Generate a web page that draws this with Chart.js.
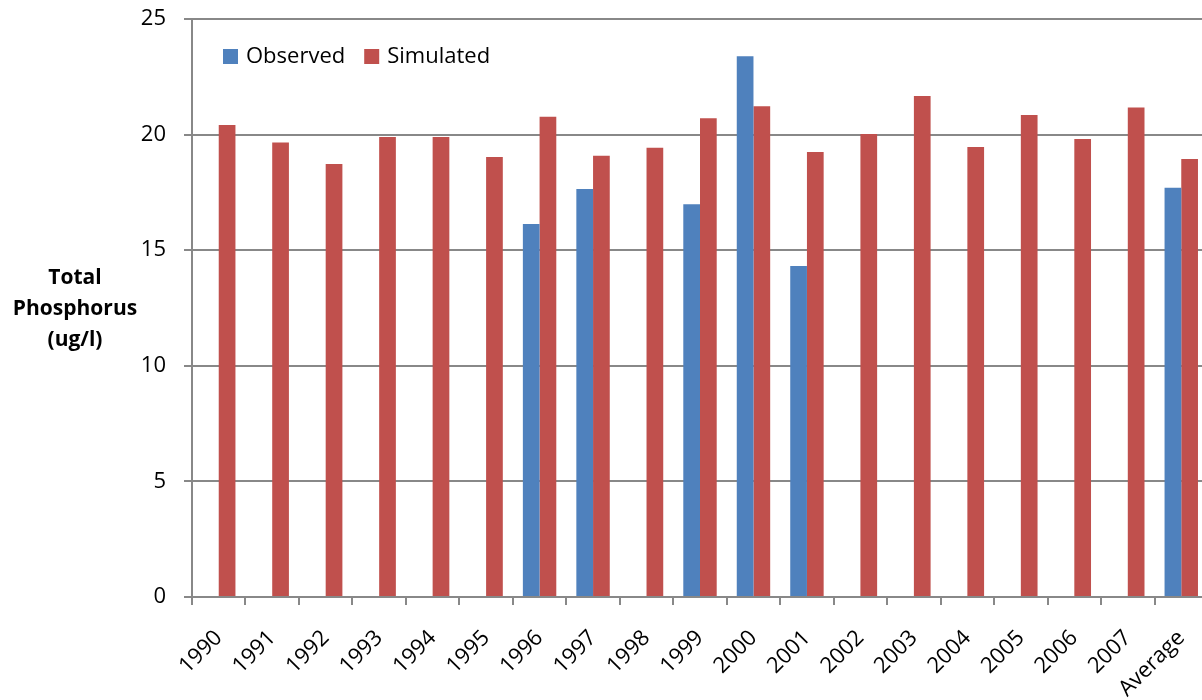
<!DOCTYPE html>
<html>
<head>
<meta charset="utf-8">
<script src="https://cdn.jsdelivr.net/npm/chart.js@4"></script>
<style>
  html, body { margin: 0; padding: 0; background: #fff; overflow: hidden; }
  #wrap { width: 1210px; height: 700px; }
</style>
</head>
<body>
<div id="wrap"><canvas id="chart" width="1210" height="700"></canvas></div>
<script>
// données
const years = ['1990', '1991', '1992', '1993', '1994', '1995', '1996', '1997', '1998', '1999',
               '2000', '2001', '2002', '2003', '2004', '2005', '2006', '2007', 'Average'];
const observed = [null, null, null, null, null, null, 16.13, 17.65, null, 16.99,
                  23.39, 14.32, null, null, null, null, null, null, 17.70];
const simulated = [20.41, 19.66, 18.73, 19.90, 19.90, 19.03, 20.77, 19.08, 19.43, 20.71,
                   21.23, 19.25, 20.03, 21.67, 19.46, 20.85, 19.81, 21.17, 18.95];
const yTicks = [0, 5, 10, 15, 20, 25];
const yTitle = ['Total', 'Phosphorus', '(ug/l)'];

const FONT = "'Open Sans', sans-serif";
const AXIS_GREY = '#888888';

// légende et titre de l'axe Y dessinés à la main (placement comme Excel)
const extras = {
    id: 'extras',
    afterDraw(chart) {
        const ctx = chart.ctx;
        ctx.save();
        // titre Y horizontal, en gras, sur trois lignes
        ctx.font = 'bold 21px ' + FONT;
        ctx.fillStyle = '#000';
        ctx.textAlign = 'center';
        ctx.textBaseline = 'middle';
        yTitle.forEach((line, i) => ctx.fillText(line, 75, 278 + i * 31));

        // légende en haut à gauche de la zone de tracé
        ctx.font = '22px ' + FONT;
        ctx.textAlign = 'left';
        let x = 223;
        const y = 57;
        chart.data.datasets.forEach(ds => {
            ctx.fillStyle = ds.backgroundColor;
            ctx.fillRect(x, y - 8, 15, 15);
            ctx.fillStyle = '#000';
            ctx.fillText(ds.label, x + 23, y);
            x += 23 + ctx.measureText(ds.label).width + 19;
        });
        ctx.restore();
    }
};

// on fige la zone de tracé : pas de marges automatiques des axes
function noPadding(scale) {
    scale.paddingLeft = 0;
    scale.paddingRight = 0;
    scale.paddingTop = 0;
    scale.paddingBottom = 0;
}

const ctx = document.getElementById('chart').getContext('2d');
new Chart(ctx, {
    type: 'bar',
    data: {
        labels: years,
        datasets: [{
            label: 'Observed',
            data: observed,
            backgroundColor: '#4F81BD',
            categoryPercentage: 0.625,
            barPercentage: 1.0
        }, {
            label: 'Simulated',
            data: simulated,
            backgroundColor: '#C0504D',
            categoryPercentage: 0.625,
            barPercentage: 1.0
        }]
    },
    options: {
        responsive: false,
        animation: false,
        layout: { padding: { top: 19, right: 2, left: 0, bottom: 0 } },
        plugins: {
            legend: { display: false },
            tooltip: { enabled: false }
        },
        scales: {
            x: {
                grid: {
                    offset: true,
                    drawOnChartArea: false,
                    drawTicks: true,
                    tickLength: 8,
                    color: AXIS_GREY,
                    lineWidth: 2
                },
                border: { color: AXIS_GREY, width: 2 },
                ticks: {
                    font: { family: FONT, size: 22 },
                    color: '#000',
                    minRotation: 45,
                    maxRotation: 45,
                    padding: 20,
                    labelOffset: 0,
                    autoSkip: false
                },
                afterFit: scale => { scale.height = 103; noPadding(scale); }
            },
            y: {
                min: 0,
                max: 25,
                afterBuildTicks: scale => { scale.ticks = yTicks.map(v => ({ value: v })); },
                grid: {
                    color: AXIS_GREY,
                    lineWidth: 2,
                    tickLength: 8
                },
                border: { color: AXIS_GREY, width: 2 },
                ticks: {
                    font: { family: FONT, size: 22 },
                    color: '#000',
                    padding: 18
                },
                afterFit: scale => { scale.width = 192; noPadding(scale); }
            }
        }
    },
    plugins: [extras]
});
</script>
</body>
</html>
